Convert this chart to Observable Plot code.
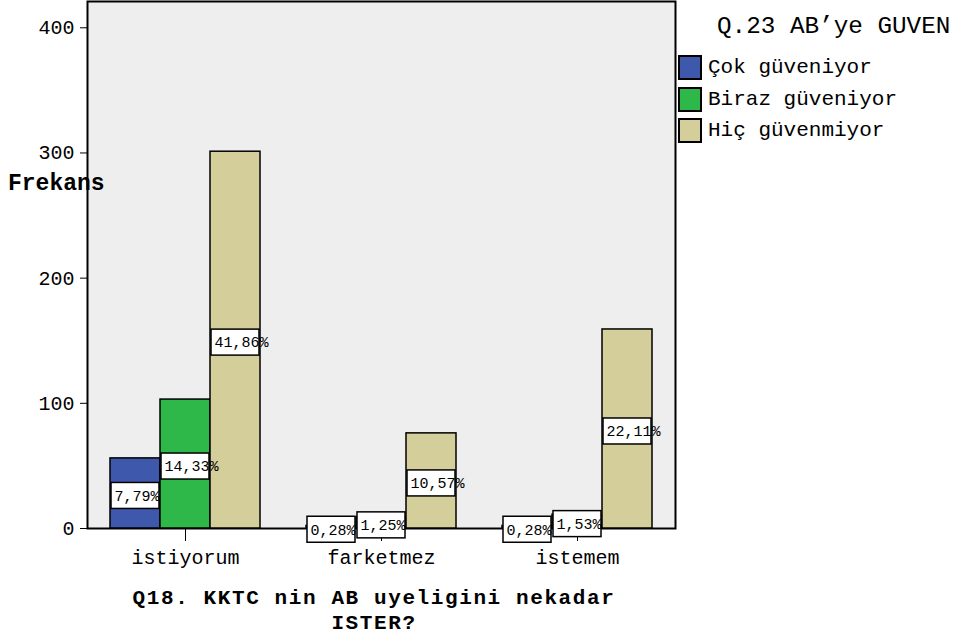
<!DOCTYPE html>
<html><head><meta charset="utf-8">
<script src="https://cdn.jsdelivr.net/npm/d3@7"></script>
<script src="https://cdn.jsdelivr.net/npm/@observablehq/plot@0.6"></script>
<style>
body{margin:0;background:#fff;font-family:"Liberation Mono","Courier New",monospace;color:#000;}
#wrap{position:relative;width:957px;height:636px;overflow:hidden;}
#chart{position:absolute;left:0;top:0;}
#ylab{position:absolute;left:8px;top:170px;font-weight:bold;font-size:23px;line-height:28px;}
#xtitle{position:absolute;left:0;width:748px;top:586px;text-align:center;font-weight:bold;font-size:21px;letter-spacing:1.6px;line-height:25px;}
#legend{position:absolute;left:678px;top:12px;}
#legend .t{margin-left:39px;font-size:24.3px;line-height:30px;height:30px;white-space:pre;}
#legend .items{margin-top:10px;}
#legend .it{display:flex;align-items:center;height:31.5px;font-size:21px;white-space:pre;}
#legend .sw{width:24px;height:25px;box-sizing:border-box;border:2px solid #000;margin-right:6px;}
</style></head>
<body><div id="wrap">
<div id="chart"></div>
<div id="ylab">Frekans</div>
<div id="xtitle"></div>
<div id="legend"></div>
</div>
<script>
const categories = ["istiyorum", "farketmez", "istemem"];
const series = ["Çok güveniyor", "Biraz güveniyor", "Hiç güvenmiyor"];
const colors = ["#3e58ab", "#2fb84a", "#d3ce9a"];
const cok = [56, 2, 2];
const biraz = [103, 9, 11];
const hic = [301, 76, 159];
const cokPct = ["7,79%", "0,28%", "0,28%"];
const birazPct = ["14,33%", "1,25%", "1,53%"];
const hicPct = ["41,86%", "10,57%", "22,11%"];
const yTicks = [0, 100, 200, 300, 400];
const xTitle = ["Q18. KKTC nin AB uyeligini nekadar", "ISTER?"];
const legendTitle = "Q.23 AB’ye GUVEN";

const values = [cok, biraz, hic];
const pcts = [cokPct, birazPct, hicPct];
const rows = [];
categories.forEach((c, i) => {
  series.forEach((s, j) => {
    rows.push({cat: c, series: s, value: values[j][i], pct: pcts[j][i], mid: values[j][i] / 2});
  });
});

const font = '"Liberation Mono","Courier New",monospace';
const chart = Plot.plot({
  width: 677,
  height: 575,
  marginLeft: 87,
  marginRight: 2,
  marginTop: 1,
  marginBottom: 47,
  style: {fontFamily: font, fontSize: "20px", color: "#000", background: "transparent"},
  fx: {domain: categories, paddingInner: 0, paddingOuter: 0, axis: "bottom", tickSize: 13, tickPadding: 8, label: null, fontSize: 21},
  x: {domain: series, paddingInner: 0, paddingOuter: 0.46, axis: null},
  y: {domain: [0, 421], ticks: yTicks, tickSize: 7, tickPadding: 6, label: null},
  color: {domain: series, range: colors},
  marks: [
    Plot.frame({facet: "super", fill: "#eeeeee", stroke: "#000", strokeWidth: 2}),
    Plot.barY(rows, {fx: "cat", x: "series", y: "value", fill: "series", stroke: "#000", strokeWidth: 1.5}),
    Plot.barY(rows, {fx: "cat", x: "series", y1: "mid", y2: "mid", fill: "#fff", stroke: "#000", strokeWidth: 1.5,
      insetTop: -10.5, insetBottom: -15.5, insetLeft: 1, insetRight: 1}),
    Plot.text(rows, {fx: "cat", x: "series", y: "mid", text: "pct", textAnchor: "start", dx: -21, dy: 2.5,
      fontSize: 15, fill: "#000", fontFamily: font})
  ]
});
document.getElementById("chart").appendChild(chart);

document.getElementById("xtitle").innerHTML = xTitle.map(t => `<div>${t}</div>`).join("");
const lg = document.getElementById("legend");
lg.innerHTML = `<div class="t">${legendTitle}</div><div class="items">` +
  series.map((s, i) => `<div class="it"><div class="sw" style="background:${colors[i]}"></div>${s}</div>`).join("") +
  `</div>`;
</script>
</body></html>
